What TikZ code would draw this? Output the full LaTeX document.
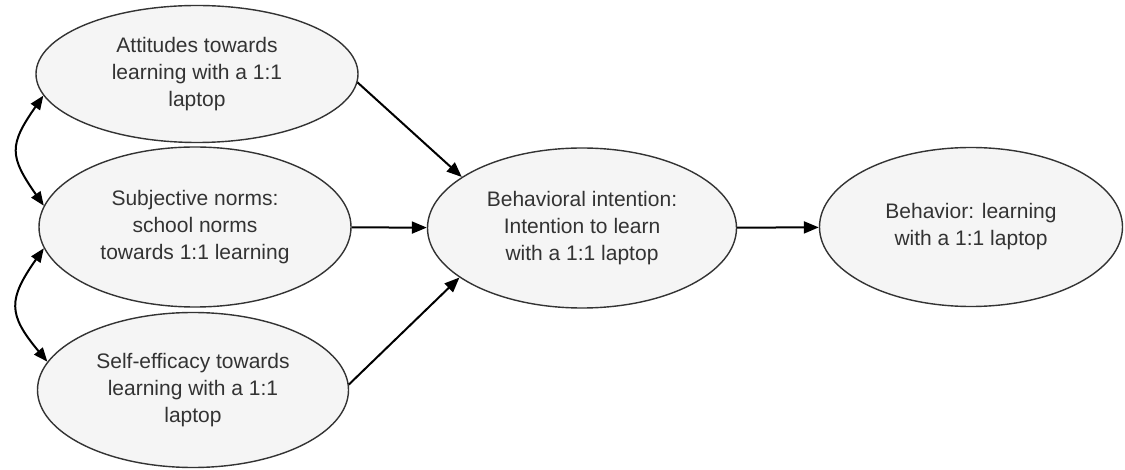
\documentclass[tikz,border=0pt]{standalone}
\usepackage{fontspec}
\setmainfont{Liberation Sans}
\usepackage{tikz}
\usetikzlibrary{arrows.meta,positioning,shapes.geometric}
\tikzset{construct/.style={ellipse,draw=black!80,line width=1.4pt,fill=gray!8,align=center,inner sep=0pt,text=black!80,font=\fontsize{21}{27}\selectfont},
  arr/.style={-{Triangle[length=15pt,width=12pt]},line width=2pt},
  dbl/.style={{Triangle[length=14pt,width=11pt]}-{Triangle[length=14pt,width=11pt]},line width=2pt}}

\begin{document}
\begin{tikzpicture}[x=1pt,y=-1pt]
\useasboundingbox (0,0) rectangle (1125,470);
\node[construct,minimum width=322pt,minimum height=137pt] (att) at (197,74) {Attitudes towards\\learning with a 1:1\\laptop};
\node[construct,minimum width=312pt,minimum height=160pt] (norm) at (195,227) {Subjective norms:\\school norms\\towards 1:1 learning};
\node[construct,minimum width=311pt,minimum height=155pt] (eff) at (193,390) {Self-efficacy towards\\learning with a 1:1\\laptop};
\node[construct,minimum width=309pt,minimum height=160pt] (intent) at (582,228) {Behavioral intention:\\Intention to learn\\with a 1:1 laptop};
\node[construct,minimum width=303pt,minimum height=159pt] (behav) at (971,227) {Behavior: learning\\with a 1:1 laptop};
\draw[arr] (att.-3)--(intent.157); \draw[arr] (norm)--(intent); \draw[arr] (eff.2)--(intent.202);
\draw[arr] (intent)--(behav);
\draw[dbl] (att.188) to[out=235,in=125,looseness=1.4] (norm.172);
\draw[dbl] (norm.188) to[out=235,in=130,looseness=1.4] (eff.169);
\end{tikzpicture}
\end{document}
